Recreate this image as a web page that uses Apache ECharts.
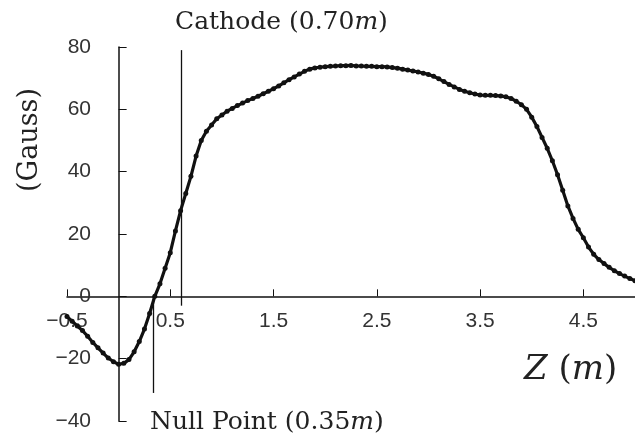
<!DOCTYPE html>
<html>
<head>
<meta charset="utf-8">
<script src="https://cdn.jsdelivr.net/npm/echarts@6/dist/echarts.min.js"></script>
<style>
  html, body { margin: 0; padding: 0; background: #fff; }
  #chart { width: 635px; height: 444px; }
</style>
</head>
<body>
<div id="chart"></div>
<script>
// axial position (m)
var zPos = [
  -0.50, -0.45, -0.40, -0.35, -0.30, -0.25, -0.20, -0.15, -0.10, -0.05,
   0.00,  0.05,  0.10,  0.15,  0.20,  0.25,  0.30,  0.35,  0.40,  0.45,
   0.50,  0.55,  0.60,  0.65,  0.70,  0.75,  0.80,  0.85,  0.90,  0.95,
   1.00,  1.05,  1.10,  1.15,  1.20,  1.25,  1.30,  1.35,  1.40,  1.45,
   1.50,  1.55,  1.60,  1.65,  1.70,  1.75,  1.80,  1.85,  1.90,  1.95,
   2.00,  2.05,  2.10,  2.15,  2.20,  2.25,  2.30,  2.35,  2.40,  2.45,
   2.50,  2.55,  2.60,  2.65,  2.70,  2.75,  2.80,  2.85,  2.90,  2.95,
   3.00,  3.05,  3.10,  3.15,  3.20,  3.25,  3.30,  3.35,  3.40,  3.45,
   3.50,  3.55,  3.60,  3.65,  3.70,  3.75,  3.80,  3.85,  3.90,  3.95,
   4.00,  4.05,  4.10,  4.15,  4.20,  4.25,  4.30,  4.35,  4.40,  4.45,
   4.50,  4.55,  4.60,  4.65,  4.70,  4.75,  4.80,  4.85,  4.90,  4.95,
   5.00
];
// field (Gauss)
var field = [
   -6.5,  -8.0,  -9.5, -11.0, -12.8, -14.8, -16.5, -18.2, -19.8, -21.0,
  -21.8, -21.5, -20.3, -17.8, -14.5, -10.5,  -5.5,   0.0,   4.0,   9.0,
   14.0,  21.0,  27.5,  33.0,  38.5,  45.0,  50.0,  53.0,  55.0,  57.0,
   58.2,  59.4,  60.3,  61.2,  62.0,  62.8,  63.5,  64.2,  65.0,  65.8,
   66.6,  67.5,  68.5,  69.5,  70.4,  71.3,  72.2,  72.9,  73.3,  73.5,
   73.7,  73.8,  73.9,  74.0,  74.0,  74.1,  73.9,  73.9,  73.8,  73.8,
   73.7,  73.7,  73.6,  73.4,  73.2,  72.9,  72.6,  72.3,  72.0,  71.6,
   71.2,  70.6,  69.8,  68.9,  68.0,  67.2,  66.4,  65.8,  65.3,  64.9,
   64.6,  64.5,  64.5,  64.4,  64.3,  64.0,  63.5,  62.6,  61.5,  60.0,
   57.5,  54.5,  51.0,  47.5,  43.5,  39.0,  34.0,  29.0,  25.0,  21.5,
   18.8,  15.8,  13.5,  11.8,  10.5,   9.3,   8.2,   7.3,   6.5,   5.7,
    5.0
];
var xTicks = [-0.5, 0.5, 1.5, 2.5, 3.5, 4.5];
var cathodeSpan = [[0.61, 79], [0.61, -3]];
var nullSpan = [[0.34, 0], [0.34, -31]];

var chart = echarts.init(document.getElementById('chart'));

var points = zPos.map(function (z, i) { return [z, field[i]]; });

function minus(v) {
  return String(v).replace('-', '\u2212');
}

var serif = '"DejaVu Serif", serif';

// the axis lines sit on zero, but labels stay at the grid edge, so margins pull them back
var option = {
  animation: false,
  grid: {
    left: 67,
    right: 0,
    top: 47,
    bottom: 23,
    containLabel: false,
    outerBoundsMode: 'none'
  },
  title: [
    {
      text: 'Cathode (0.70{i|m})',
      left: 175,
      top: 7,
      padding: 0,
      textStyle: {
        fontFamily: serif, fontSize: 25, fontWeight: 'normal', color: '#222', lineHeight: 30,
        rich: { i: { fontFamily: serif, fontSize: 25, fontStyle: 'italic', color: '#222' } }
      }
    },
    {
      text: 'Null Point (0.35{i|m})',
      left: 150,
      top: 407,
      padding: 0,
      textStyle: {
        fontFamily: serif, fontSize: 25, fontWeight: 'normal', color: '#222', lineHeight: 30,
        rich: { i: { fontFamily: serif, fontSize: 25, fontStyle: 'italic', color: '#222' } }
      }
    },
    {
      text: '{i|Z} ({i|m})',
      left: 524,
      top: 350,
      padding: 0,
      textStyle: {
        fontFamily: serif, fontSize: 34, fontWeight: 'normal', color: '#222', lineHeight: 40,
        rich: { i: { fontFamily: serif, fontSize: 34, fontStyle: 'italic', color: '#222' } }
      }
    }
  ],
  graphic: [
    {
      type: 'text',
      x: 30,
      y: 140,
      rotation: Math.PI / 2,
      style: {
        text: '(Gauss)',
        font: '27px "DejaVu Serif", serif',
        fill: '#222',
        textAlign: 'center',
        textVerticalAlign: 'middle'
      }
    }
  ],
  xAxis: {
    type: 'value',
    min: -0.5,
    max: 5,
    interval: 0.5,
    splitLine: { show: false },
    axisLine: { onZero: true, lineStyle: { color: '#111', width: 1.5 } },
    axisTick: { inside: true, length: 7, customValues: xTicks, lineStyle: { color: '#111', width: 1 } },
    axisLabel: {
      customValues: xTicks,
      margin: -110,
      fontFamily: '"Liberation Sans", sans-serif',
      fontSize: 21,
      color: '#333',
      formatter: function (v) { return minus(v.toFixed(1)); }
    }
  },
  yAxis: {
    type: 'value',
    min: -40,
    max: 80,
    interval: 20,
    splitLine: { show: false },
    axisLine: { onZero: true, lineStyle: { color: '#111', width: 1.5 } },
    axisTick: { inside: true, length: 8, lineStyle: { color: '#111', width: 1 } },
    axisLabel: {
      margin: -24,
      fontFamily: '"Liberation Sans", sans-serif',
      fontSize: 21,
      color: '#333',
      formatter: function (v) { return minus(v); }
    }
  },
  series: [
    {
      type: 'line',
      data: points,
      smooth: false,
      symbol: 'circle',
      symbolSize: 5,
      itemStyle: { color: '#111' },
      lineStyle: { color: '#111', width: 3.2 },
      markLine: {
        silent: true,
        symbol: 'none',
        label: { show: false },
        lineStyle: { color: '#111', width: 1.3, type: 'solid' },
        data: [
          [{ coord: cathodeSpan[0] }, { coord: cathodeSpan[1] }],
          [{ coord: nullSpan[0] }, { coord: nullSpan[1] }]
        ]
      }
    }
  ]
};

chart.setOption(option);
</script>
</body>
</html>
